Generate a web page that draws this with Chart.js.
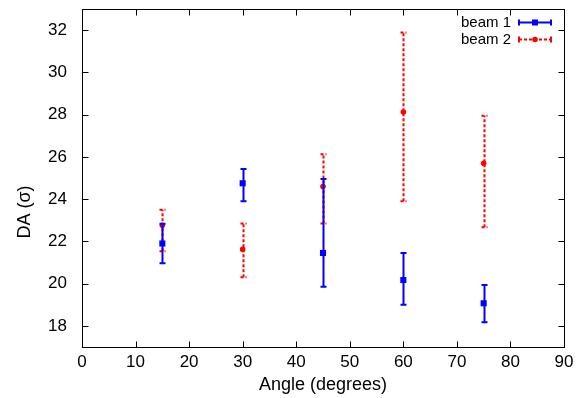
<!DOCTYPE html>
<html>
<head>
<meta charset="utf-8">
<script src="https://cdn.jsdelivr.net/npm/chart.js@4"></script>
<style>
  html, body { margin: 0; padding: 0; background: #fff; }
  #wrap { width: 585px; height: 398px; }
</style>
</head>
<body>
<div id="wrap"><canvas id="c"></canvas></div>
<script>
// data
const angles = [15, 30, 45, 60, 75];

const beam1 = [21.9, 24.75, 21.45, 20.17, 19.07];
const beam1Lo = [20.97, 23.9, 19.85, 19.0, 18.17];
const beam1Hi = [22.83, 25.43, 24.95, 21.45, 19.93];

const beam2 = [22.76, 21.62, 24.6, 28.12, 25.7];
const beam2Lo = [21.53, 20.3, 22.85, 23.9, 22.67];
const beam2Hi = [23.5, 22.85, 26.13, 31.89, 27.95];

const xTicks = [0, 10, 20, 30, 40, 50, 60, 70, 80, 90];
const yTicks = [18, 20, 22, 24, 26, 28, 30, 32];

const FONT = "'Liberation Sans', Arial, Helvetica, sans-serif";

const toPoints = (xs, ys) => xs.map((x, i) => ({ x: x, y: ys[i] }));

// error bars, drawn just before each dataset's markers
const errorBars = {
    id: 'errorBars',
    beforeDatasetDraw(chart, args) {
        const ds = chart.data.datasets[args.index];
        if (!ds.errLo) return;
        const { ctx, scales: { x, y } } = chart;
        ctx.save();
        ctx.strokeStyle = ds.borderColor;
        ctx.lineWidth = 2;
        ctx.setLineDash(ds.errDash || []);
        ds.data.forEach((p, i) => {
            const px = Math.round(x.getPixelForValue(p.x)) + 0.5;
            const lo = y.getPixelForValue(ds.errLo[i]);
            const hi = y.getPixelForValue(ds.errHi[i]);
            ctx.beginPath();
            ctx.moveTo(px, lo);
            ctx.lineTo(px, hi);
            ctx.moveTo(px - 3, lo);
            ctx.lineTo(px + 3, lo);
            ctx.moveTo(px - 3, hi);
            ctx.lineTo(px + 3, hi);
            ctx.stroke();
        });
        ctx.restore();
    }
};

// gnuplot style box with inward ticks, legend and y title
const frame = {
    id: 'frame',
    afterDraw(chart) {
        const { ctx, chartArea: a, scales: { x, y } } = chart;
        const L = Math.round(a.left) + 0.5, R = Math.round(a.right) + 0.5;
        const T = Math.round(a.top) + 0.5, B = Math.round(a.bottom) + 0.5;
        ctx.save();
        ctx.strokeStyle = '#000';
        ctx.lineWidth = 1;
        ctx.strokeRect(L, T, R - L, B - T);
        ctx.beginPath();
        xTicks.forEach(v => {
            const px = Math.round(x.getPixelForValue(v)) + 0.5;
            ctx.moveTo(px, B); ctx.lineTo(px, B - 6);
            ctx.moveTo(px, T); ctx.lineTo(px, T + 6);
        });
        yTicks.forEach(v => {
            const py = Math.round(y.getPixelForValue(v)) + 0.5;
            ctx.moveTo(L, py); ctx.lineTo(L + 6, py);
            ctx.moveTo(R, py); ctx.lineTo(R - 6, py);
        });
        ctx.stroke();

        // y axis title
        ctx.fillStyle = '#000';
        ctx.font = '18px ' + FONT;
        ctx.textAlign = 'center';
        ctx.textBaseline = 'middle';
        ctx.translate(25, 212);
        ctx.rotate(-Math.PI / 2);
        ctx.fillText('DA (σ)', 0, 0);
        ctx.setTransform(1, 0, 0, 1, 0, 0);

        // legend
        ctx.font = '15px ' + FONT;
        ctx.textAlign = 'right';
        chart.data.datasets.forEach((ds, i) => {
            const ly = 22.5 + i * 17;
            ctx.fillStyle = '#000';
            ctx.fillText(ds.label, 511, ly);
            ctx.strokeStyle = ds.borderColor;
            ctx.lineWidth = 2;
            ctx.setLineDash(ds.errDash || []);
            ctx.beginPath();
            ctx.moveTo(519, ly); ctx.lineTo(551, ly);
            ctx.stroke();
            ctx.setLineDash([]);
            ctx.beginPath();
            ctx.moveTo(519, ly - 3); ctx.lineTo(519, ly + 3);
            ctx.moveTo(551, ly - 3); ctx.lineTo(551, ly + 3);
            ctx.stroke();
            ctx.fillStyle = ds.borderColor;
            if (ds.pointStyle === 'rect') {
                ctx.fillRect(532, ly - 3, 6, 6);
            } else {
                ctx.beginPath();
                ctx.arc(535, ly, 2.8, 0, Math.PI * 2);
                ctx.fill();
            }
        });
        ctx.restore();
    }
};

const noPad = s => { s.paddingTop = 0; s.paddingBottom = 0; s.paddingLeft = 0; s.paddingRight = 0; };

new Chart(document.getElementById('c'), {
    type: 'scatter',
    data: {
        datasets: [{
            label: 'beam 1',
            data: toPoints(angles, beam1),
            errLo: beam1Lo,
            errHi: beam1Hi,
            borderColor: '#0000ff',
            backgroundColor: '#0000ff',
            pointStyle: 'rect',
            pointRadius: 4.3,
            pointBorderWidth: 0,
            showLine: false
        }, {
            label: 'beam 2',
            data: toPoints(angles, beam2),
            errLo: beam2Lo,
            errHi: beam2Hi,
            errDash: [3, 2],
            borderColor: '#ff0000',
            backgroundColor: '#ff0000',
            pointStyle: 'circle',
            pointRadius: 2.8,
            pointBorderWidth: 0,
            showLine: false
        }]
    },
    options: {
        responsive: true,
        maintainAspectRatio: false,
        animation: false,
        layout: { padding: { top: 9, right: 21, left: 0, bottom: 0 } },
        plugins: {
            legend: { display: false },
            tooltip: { enabled: false }
        },
        scales: {
            x: {
                type: 'linear',
                min: 0,
                max: 90,
                afterBuildTicks: s => { s.ticks = xTicks.map(v => ({ value: v })); },
                afterFit: s => { s.height = 51; noPad(s); },
                grid: { display: false },
                border: { display: false },
                ticks: { color: '#000', padding: -3, font: { family: FONT, size: 17 } },
                title: {
                    display: true,
                    text: 'Angle (degrees)',
                    color: '#000',
                    padding: { top: 0, bottom: 2 },
                    font: { family: FONT, size: 18 }
                }
            },
            y: {
                min: 17,
                max: 33,
                afterBuildTicks: s => { s.ticks = yTicks.map(v => ({ value: v })); },
                afterFit: s => { s.width = 82; noPad(s); },
                grid: { display: false },
                border: { display: false },
                ticks: { color: '#000', padding: 7, font: { family: FONT, size: 17 } }
            }
        }
    },
    plugins: [errorBars, frame]
});
</script>
</body>
</html>
